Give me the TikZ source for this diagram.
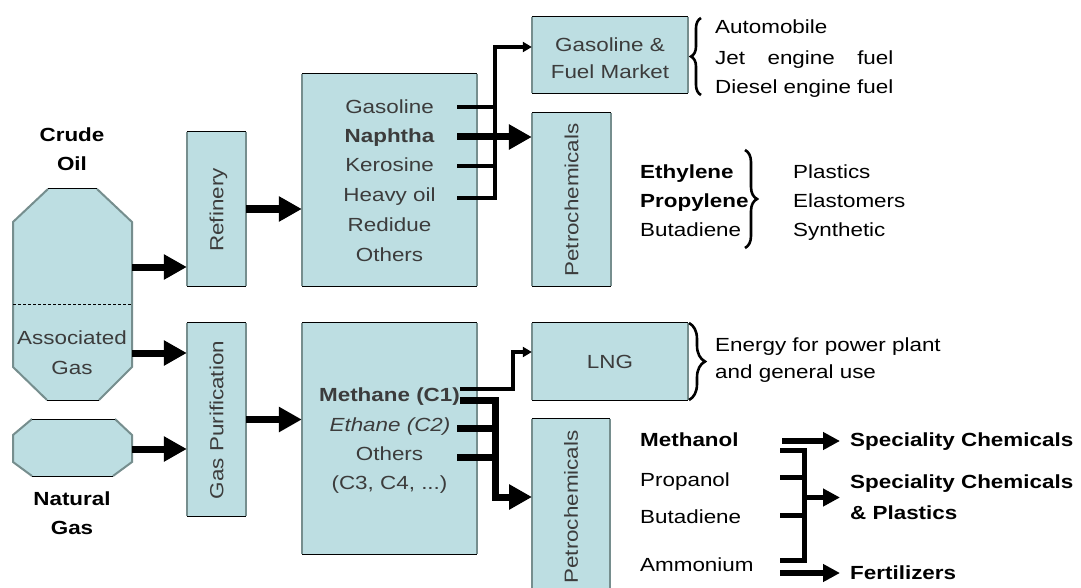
\documentclass[tikz,border=0pt]{standalone}
\usepackage{fontspec}
\setmainfont{Liberation Sans}[FakeStretch=1.18]
\usepackage{calc}
\usetikzlibrary{arrows.meta,decorations.pathreplacing}
\definecolor{boxfill}{RGB}{189,222,226}
\definecolor{edgegray}{RGB}{118,142,142}
\definecolor{txtgray}{RGB}{60,60,60}
\begin{document}
\begin{tikzpicture}[x=1pt,y=-1pt,
  every node/.style={font=\fontsize{19}{22}\selectfont, inner sep=0pt, text height=13.6pt, text depth=0pt},
  blk/.style={fill=boxfill, draw=none, inner sep=0pt},
  boxtxt/.style={text=txtgray},
  vtxt/.style={text=txtgray, rotate=90},
  lbl/.style={anchor=west, text=black},
  bf/.style={font=\fontsize{19}{22}\selectfont\bfseries},
  thickarr/.style={line width=7pt, -{Triangle[length=23pt,width=24pt]}},
  thinarr/.style={line width=3.5pt, -{Triangle[length=9pt,width=10pt]}},
  medarr/.style={line width=5.5pt, -{Triangle[length=17pt,width=17pt]}},
  thickln/.style={line width=7pt},
  thinln/.style={line width=3.5pt},
  brk/.style={line width=5pt},
  bracesty/.style={line width=2.6pt, decorate, decoration={brace, amplitude=#1}},
]
\useasboundingbox (0,0) rectangle (1081,588);
\fill[white] (0,0) rectangle (1081,588);

% ---------- tanks ----------
\fill[boxfill] (48,189) -- (97,189) -- (132,222) -- (132,367) -- (99,400) -- (47,400) -- (13,367) -- (13,222) -- cycle;
\draw[edgegray, line width=2pt] (97,189) -- (132,222) -- (132,367) -- (99,400) (47,400) -- (13,367) -- (13,222) -- (48,189);
\draw[black, line width=1pt] (48,189) -- (97,189) (47,400) -- (99,400);
\draw[black, line width=0.8pt, dash pattern=on 3pt off 2pt] (13,304) -- (132,304);

\fill[boxfill] (32,419) -- (115,419) -- (132,435) -- (132,462) -- (113,476) -- (32,476) -- (13,462) -- (13,435) -- cycle;
\draw[edgegray, line width=2pt] (115,419) -- (132,435) -- (132,462) -- (113,476) (32,476) -- (13,462) -- (13,435) -- (32,419);
\draw[black, line width=1pt] (32,419) -- (115,419) (32,476) -- (113,476);

\coordinate (crudeOut) at (132,267);
\coordinate (assocOut) at (132,353);
\coordinate (ngOut) at (132,449);

\node[bf] (crude) at (72,135) {Crude};
\node[bf] (oil) at (72,164) {Oil};
\node[boxtxt] (assoc) at (72,338) {Associated};
\node[boxtxt] (assocgas) at (72,368) {Gas};
\node[bf] (natural) at (72,499) {Natural};
\node[bf] (natgas) at (72,528) {Gas};

% ---------- boxes ----------
\node[blk, minimum width=59pt, minimum height=154pt] (ref) at (216.5,209) {};
\node[blk, minimum width=59pt, minimum height=193pt] (gp) at (216.5,419.5) {};
\node[blk, minimum width=175pt, minimum height=212pt] (up) at (389.5,180) {};
\node[blk, minimum width=175pt, minimum height=231pt] (low) at (389.5,438.5) {};
\node[blk, minimum width=156pt, minimum height=76pt] (gfm) at (610,55) {};
\node[blk, minimum width=79pt, minimum height=173pt] (petA) at (571.5,199.5) {};
\node[blk, minimum width=156pt, minimum height=77pt] (lng) at (610,361.5) {};
\node[blk, minimum width=78pt, minimum height=173pt] (petB) at (571,505.5) {};
\foreach \n in {ref,gp,up,low,gfm,petA,lng,petB}{
  \draw[edgegray, line width=2pt] (\n.north west) -- (\n.south west) (\n.north east) -- (\n.south east);
  \draw[black, line width=1pt] (\n.north west) -- (\n.north east) (\n.south west) -- (\n.south east);
}

\node[vtxt] (reft) at (216.5,210) {Refinery};
\node[vtxt] (gpt) at (216.5,420) {Gas Purification};
\node[vtxt] (petAt) at (571.5,200) {Petrochemicals};
\node[vtxt] (petBt) at (571,507) {Petrochemicals};

\node[boxtxt] (gasoline) at (389.5,107) {Gasoline};
\node[boxtxt, bf] (naphtha) at (389.5,136) {Naphtha};
\node[boxtxt] (kerosine) at (389.5,165) {Kerosine};
\node[boxtxt] (heavy) at (389.5,195) {Heavy oil};
\node[boxtxt] (redidue) at (389.5,225) {Redidue};
\node[boxtxt] (others1) at (389.5,255) {Others};

\node[boxtxt, bf] (methane) at (389.5,395) {Methane (C1)};
\node[boxtxt, font=\fontsize{19}{22}\selectfont\itshape] (ethane) at (390,425) {Ethane (C2)};
\node[boxtxt] (others2) at (389.5,454) {Others};
\node[boxtxt] (c3c4) at (389.5,483) {(C3, C4, ...)};

\node[boxtxt] (gfm1) at (610,45) {Gasoline \&};
\node[boxtxt] (gfm2) at (610,72) {Fuel Market};
\node[boxtxt] (lngt) at (610,362) {LNG};

% ---------- main arrows ----------
\draw[thickarr] (crudeOut) -- (crudeOut -| ref.west);
\draw[thickarr] (assocOut) -- (assocOut -| gp.west);
\draw[thickarr] (ngOut) -- (ngOut -| gp.west);
\draw[thickarr] (ref.east) -- (ref.east -| up.west);
\draw[thickarr] (gp.east) -- (gp.east -| low.west);

% upper outputs
\coordinate (gasS) at (457,107);
\coordinate (naphS) at (457,137);
\coordinate (kerS) at (457,166);
\coordinate (heavyS) at (457,198);
\coordinate (gfmIn) at ([yshift=8pt]gfm.west);
\draw[thinln] (gasS) -- (496.75,107);
\draw[thinln] (kerS) -- (496.75,166);
\draw[thinarr] (heavyS) -- (495,198) -- (495,47) -- (gfmIn);
\draw[thickarr] (naphS) -- (naphS -| petA.west);

% lower outputs
\coordinate (methA) at (460,389);
\coordinate (methB) at (460,400);
\coordinate (ethS) at (457,428);
\coordinate (othS) at (457,457);
\coordinate (lngIn) at ([yshift=9.5pt]lng.west);
\coordinate (petBIn) at (532,497);
\draw[thinarr] (methA) -- (513,389) -- (513,352) -- (lngIn);
\draw[thickarr] (methB) -- (495,400) -- (495,497) -- (petBIn);
\draw[thickln] (ethS) -- (498.5,428);
\draw[thickln] (othS) -- (498.5,457);

% ---------- right-hand texts ----------
\draw[bracesty=10] (701,95) -- (701,18);
\node[lbl] (auto) at (715,27) {Automobile};
\node[lbl] (jet) at (715,58) {\makebox[\widthof{Diesel engine fuel}][s]{Jet engine fuel}};
\node[lbl] (diesel) at (715,87) {Diesel engine fuel};

\node[lbl, bf] (ethyl) at (640,172) {Ethylene};
\node[lbl, bf] (propyl) at (640,201) {Propylene};
\node[lbl] (butad1) at (640,230) {Butadiene};
\draw[bracesty=12] (745,150) -- (745,248);
\node[lbl] (plast) at (793,172) {Plastics};
\node[lbl] (elast) at (793,201) {Elastomers};
\node[lbl] (synth) at (793,230) {Synthetic};

\draw[bracesty=16] (689,323) -- (689,400);
\node[lbl] (energy1) at (715,345) {Energy for power plant};
\node[lbl] (energy2) at (715,372) {and general use};

\node[lbl, bf] (methanol) at (640,440) {Methanol};
\node[lbl] (propanol) at (640,480) {Propanol};
\node[lbl] (butad2) at (640,517) {Butadiene};
\node[lbl] (ammon) at (640,565) {Ammonium};

\node[lbl, bf] (spec1) at (850,440) {Speciality Chemicals};
\node[lbl, bf] (spec2) at (850,482) {Speciality Chemicals};
\node[lbl, bf] (spec3) at (850,513) {\& Plastics};
\node[lbl, bf] (fert) at (850,573) {Fertilizers};

\coordinate (methOut) at (782,441);
\coordinate (ammOut) at (780,573);
\coordinate (brJ) at (804.5,497.5);
\draw[medarr] (methOut) -- ([xshift=-10pt]spec1.west |- methOut);
\draw[brk] (780,450) -- (804.5,450) -- (804.5,560) -- (780,560);
\draw[brk] (780,477.5) -- (807,477.5);
\draw[brk] (780,515.5) -- (807,515.5);
\draw[medarr] (brJ) -- ([xshift=-10pt]spec1.west |- brJ);
\draw[medarr] (ammOut) -- ([xshift=-10pt]fert.west);
\end{tikzpicture}
\end{document}
